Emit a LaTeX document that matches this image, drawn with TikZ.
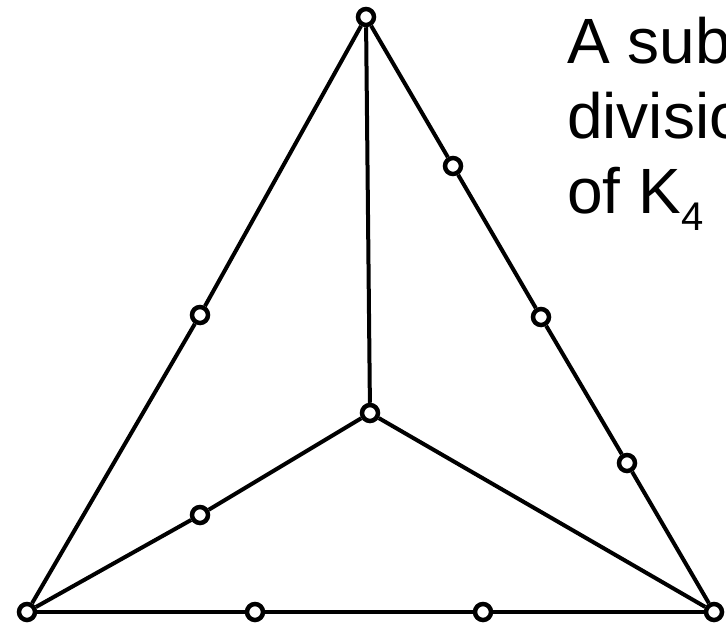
\documentclass[tikz,border=0pt]{standalone}
\usepackage{fontspec}
\setmainfont{Liberation Sans}
\begin{document}
\begin{tikzpicture}[x=1pt,y=-1pt,
  vtx/.style={circle,draw,line width=4.5pt,fill=white,minimum size=16pt,inner sep=0pt},
  edge/.style={line width=4pt},
  lbl/.style={anchor=base west,inner sep=0pt,font=\fontsize{64}{64}\selectfont}]
\useasboundingbox (0,0) rectangle (726,627);
\clip (0,0) rectangle (726,627);
\node[vtx] (t) at (366,17) {};
\node[vtx] (bl) at (27,612) {};
\node[vtx] (br) at (714,612) {};
\node[vtx] (c) at (370,413) {};
\node[vtx] (l1) at (200,315) {};
\node[vtx] (r1) at (453,166) {};
\node[vtx] (r2) at (541,317) {};
\node[vtx] (r3) at (627,463) {};
\node[vtx] (cl) at (200,515) {};
\node[vtx] (b1) at (255,612) {};
\node[vtx] (b2) at (483,612) {};
\draw[edge] (t) -- (l1) -- (bl);
\draw[edge] (t) -- (r1) -- (r2) -- (r3) -- (br);
\draw[edge] (t) -- (c);
\draw[edge] (c) -- (cl) -- (bl);
\draw[edge] (c) -- (br);
\draw[edge] (bl) -- (b1) -- (b2) -- (br);
\node[lbl] (l1t) at (567,63) {A sub};
\node[lbl] (l2t) at (567,138) {divisio};
\node[lbl] (l3t) at (567,213) {of K\raisebox{-17pt}{\fontsize{40}{40}\selectfont 4}};
\end{tikzpicture}
\end{document}
